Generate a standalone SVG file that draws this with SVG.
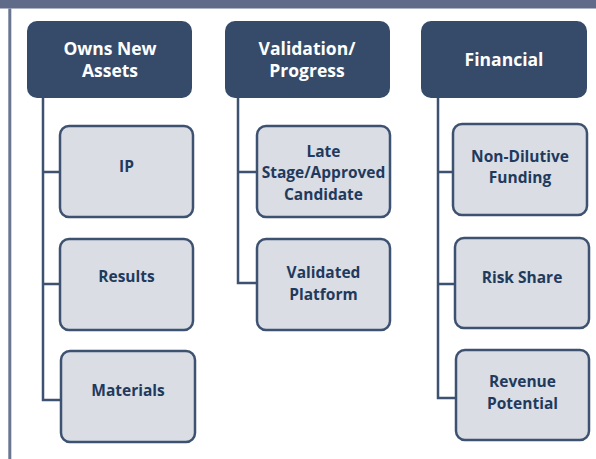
<svg xmlns="http://www.w3.org/2000/svg" width="596" height="459" viewBox="0 0 596 459">
<style>
.hdr{fill:#364b6a}
.hdrt{fill:#ffffff;font-family:"Open Sans",sans-serif;font-weight:700;font-size:17.5px;text-anchor:middle}
.box{fill:#dadde4;stroke:#3d5170;stroke-width:2.5}
.boxt{fill:#1f3a5c;font-family:"Open Sans",sans-serif;font-weight:700;font-size:15.5px;text-anchor:middle}
.con{fill:none;stroke:#3d5170;stroke-width:2.5}
</style>
<rect x="0" y="0" width="596" height="459" fill="#ffffff"/>
<rect x="0" y="0" width="596" height="8.5" fill="#606b89"/>
<rect x="8.3" y="8.5" width="3" height="451" fill="#6a7592"/>
<g id="connectors">
<path class="con" d="M43,97 V400 H61 M43,172 H60 M43,284 H60"/>
<path class="con" d="M238,97 V283 H257 M238,172 H257"/>
<path class="con" d="M438,97 V398 H456 M438,172 H453 M438,284 H455"/>
</g>
<g id="h1"><rect class="hdr" x="27" y="21" width="165" height="77" rx="10"/><text class="hdrt" x="110" y="55">Owns New</text><text class="hdrt" x="110" y="77">Assets</text></g>
<g id="h2"><rect class="hdr" x="225" y="21" width="165" height="77" rx="10"/><text class="hdrt" x="307" y="55">Validation/</text><text class="hdrt" x="307" y="77">Progress</text></g>
<g id="h3"><rect class="hdr" x="421" y="21" width="166" height="77" rx="10"/><text class="hdrt" x="504" y="66">Financial</text></g>
<g id="ip"><rect class="box" x="60" y="126" width="133" height="91" rx="9"/><text class="boxt" x="126.5" y="172">IP</text></g>
<g id="results"><rect class="box" x="60" y="239" width="133" height="91" rx="9"/><text class="boxt" x="126.5" y="282">Results</text></g>
<g id="materials"><rect class="box" x="61" y="351" width="134" height="91" rx="9"/><text class="boxt" x="128" y="396">Materials</text></g>
<g id="late"><rect class="box" x="257" y="126" width="133" height="91" rx="9"/><text class="boxt" x="323.5" y="157">Late</text><text class="boxt" x="323.5" y="178">Stage/Approved</text><text class="boxt" x="323.5" y="200">Candidate</text></g>
<g id="platform"><rect class="box" x="257" y="239" width="133" height="91" rx="9"/><text class="boxt" x="323.5" y="278">Validated</text><text class="boxt" x="323.5" y="300">Platform</text></g>
<g id="nondil"><rect class="box" x="453" y="124" width="134" height="91" rx="9"/><text class="boxt" x="520" y="162">Non-Dilutive</text><text class="boxt" x="520" y="183">Funding</text></g>
<g id="risk"><rect class="box" x="455" y="238" width="134" height="90" rx="9"/><text class="boxt" x="522" y="283">Risk Share</text></g>
<g id="revenue"><rect class="box" x="456" y="350" width="133" height="90" rx="9"/><text class="boxt" x="522.5" y="387">Revenue</text><text class="boxt" x="522.5" y="409">Potential</text></g>
</svg>
